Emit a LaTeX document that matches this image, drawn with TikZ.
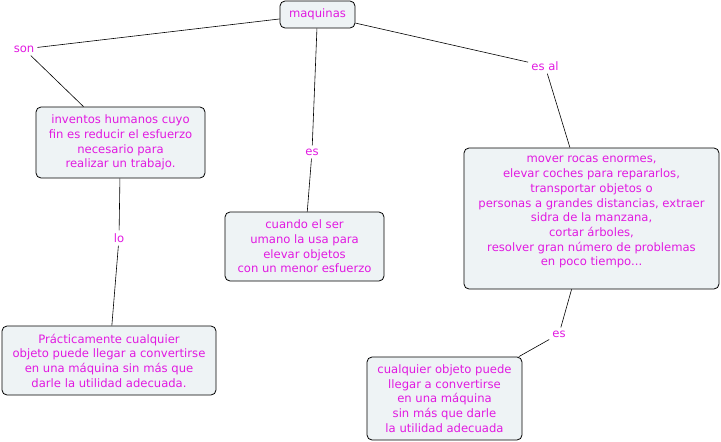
\documentclass[tikz,border=0pt]{standalone}
\usepackage{fontspec}
\setmainfont{DejaVu Sans}
\usetikzlibrary{calc}
\definecolor{conceptfill}{RGB}{238,243,245}
\definecolor{conceptink}{RGB}{225,25,225}
\tikzstyle{concept} = [%
					draw, rounded corners = 5pt,
					fill = conceptfill, text = conceptink,
					line width = 0.8, align = center, inner sep = 2pt,
					font = \fontsize{11.6}{14.7}\selectfont]
\tikzstyle{linkword} = [%
					text = conceptink, inner sep = 3pt,
					font = \fontsize{11.6}{13}\selectfont]
\tikzstyle{link} = [line width = 0.6, color = black]

\begin{document}
\begin{tikzpicture}[x=1pt,y=-1pt]
	\useasboundingbox (0,0) rectangle (721,442);

	% Concepts
	\node[concept, minimum width=75, minimum height=27] (maq) at (317.5,14.5) {maquinas};
	\node[concept, minimum width=169, minimum height=71] (inv) at (120.5,142.5) {inventos humanos cuyo\\ fin es reducir el esfuerzo\\ necesario para\\ realizar un trabajo.};
	\node[concept, minimum width=159, minimum height=69] (cuando) at (304.5,246.5) {cuando el ser\\ umano la usa para\\ elevar objetos\\ con un menor esfuerzo};
	\node[concept, minimum width=255, minimum height=141] (mover) at (591.5,218.5) {mover rocas enormes,\\ elevar coches para repararlos,\\ transportar objetos o\\ personas a grandes distancias, extraer\\ sidra de la manzana,\\ cortar árboles,\\ resolver gran número de problemas\\ en poco tiempo...\\ \mbox{}};
	\node[concept, minimum width=214, minimum height=69] (pract) at (109,360.5) {Prácticamente cualquier\\ objeto puede llegar a convertirse\\ en una máquina sin más que\\ darle la utilidad adecuada.};
	\node[concept, minimum width=155, minimum height=83] (cual) at (444.5,398.5) {cualquier objeto puede\\ llegar a convertirse\\ en una máquina\\ sin más que darle\\ la utilidad adecuada};

	% Linking words
	\node[linkword] (son) at (24,49) {son};
	\node[linkword] (es1) at (312,152) {es};
	\node[linkword] (esal) at (545,66) {es al};
	\node[linkword] (lo) at (119,238) {lo};
	\node[linkword] (es2) at (559,334) {es};

	% Connectors
	\draw[link] (maq) -- (son);
	\draw[link] (son) -- (inv);
	\draw[link] (maq) -- (es1);
	\draw[link] (es1) -- (cuando);
	\draw[link] (maq) -- (esal);
	\draw[link] (esal) -- (mover);
	\draw[link] (inv) -- (lo);
	\draw[link] (lo) -- (pract);
	\draw[link] (mover) -- (es2);
	\draw[link] (es2) -- (cual);

\end{tikzpicture}
\end{document}
